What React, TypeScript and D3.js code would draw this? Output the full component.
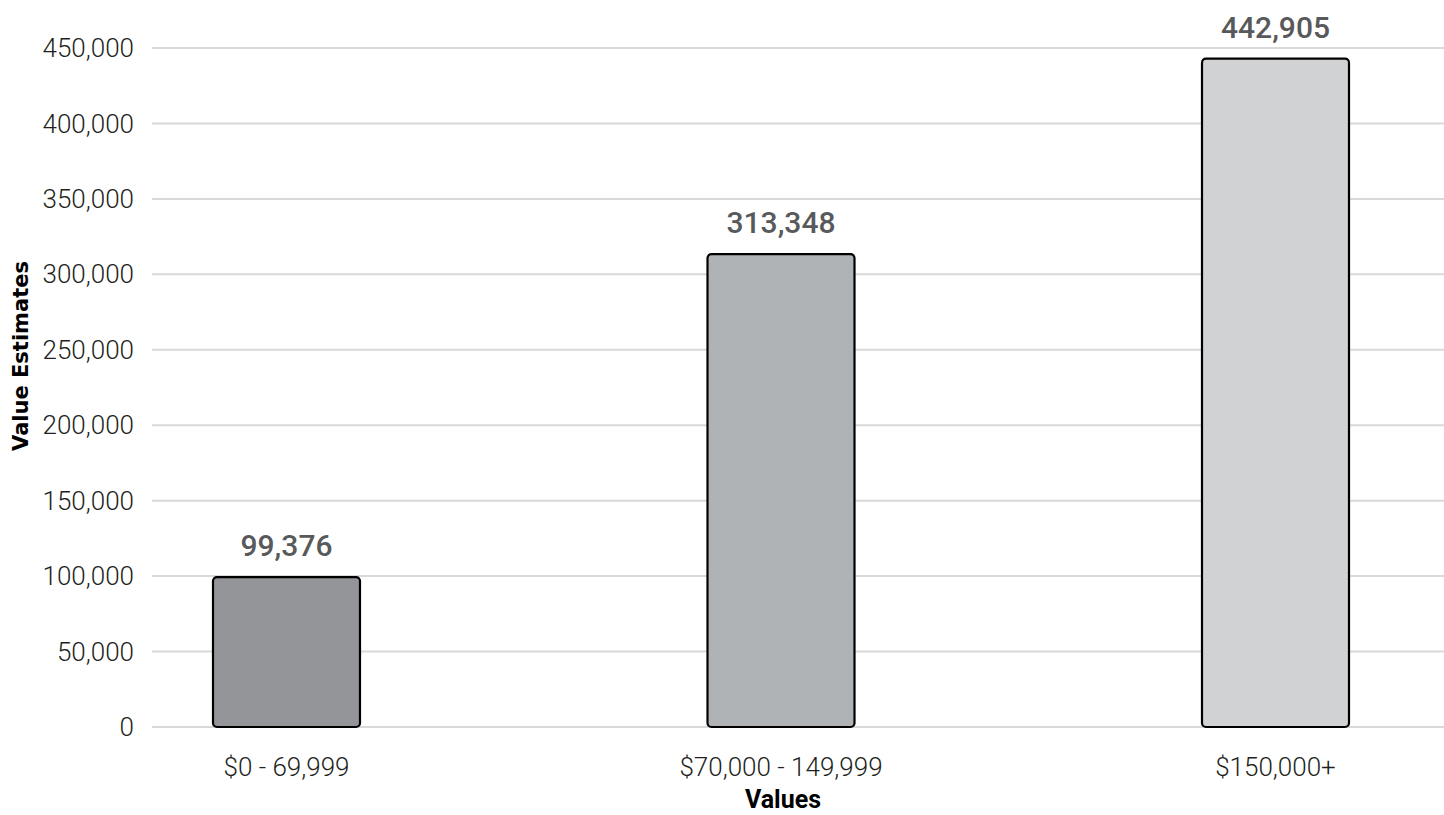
import React from "react";
import * as d3 from "d3";

const categories = ["$0 - 69,999", "$70,000 - 149,999", "$150,000+"];
const values = [99376, 313348, 442905];
const barColors = ["#939598", "#b0b3b6", "#d1d2d4"];
const yTicks = [0, 50000, 100000, 150000, 200000, 250000, 300000, 350000, 400000, 450000];

export default function App() {
  const W = 1444, H = 815;
  const x = d3.scalePoint<string>().domain(categories).range([286.5, 1275.5]);
  const y = d3.scaleLinear().domain([0, 450000]).range([727, 48]);
  const bw = 147;
  const fmt = d3.format(",");
  const tickFont = "Roboto, 'Noto Sans', sans-serif";
  return (
    <svg width={W} height={H} style={{ position: "absolute", left: 0, top: 0, background: "#fff" }}>
      {yTicks.map((t) => (
        <g key={t}>
          <line x1={152} x2={1444} y1={y(t)} y2={y(t)} stroke="#d9d9d9" strokeWidth={2} />
          <text x={134} y={y(t)} dy="0.35em" textAnchor="end" fontFamily={tickFont} fontWeight={300} fontSize={26} fill="#231f20">
            {fmt(t)}
          </text>
        </g>
      ))}
      {categories.map((c, i) => {
        const cx = x(c)!;
        const top = y(values[i]);
        return (
          <g key={c}>
            <rect x={cx - bw / 2} y={top} width={bw} height={y(0) - top} rx={4} ry={4}
              fill={barColors[i]} stroke="#000" strokeWidth={2.2} />
            <text x={cx} y={top - 21} textAnchor="middle" fontFamily={tickFont} fontWeight={500} fontSize={30} fill="#58595b">
              {fmt(values[i])}
            </text>
            <text x={cx} y={767} dy="0.35em" textAnchor="middle" fontFamily={tickFont} fontWeight={300} fontSize={26} fill="#231f20">
              {c}
            </text>
          </g>
        );
      })}
      <text x={783} y={808} textAnchor="middle" fontFamily={tickFont} fontWeight={700} fontSize={25} fill="#000">
        Values
      </text>
      <text transform={`translate(21, 356) rotate(-90)`} textAnchor="middle" dy="0.35em"
        fontFamily="'DejaVu Sans', sans-serif" fontWeight={700} fontSize={21} fill="#000">
        Value Estimates
      </text>
    </svg>
  );
}
